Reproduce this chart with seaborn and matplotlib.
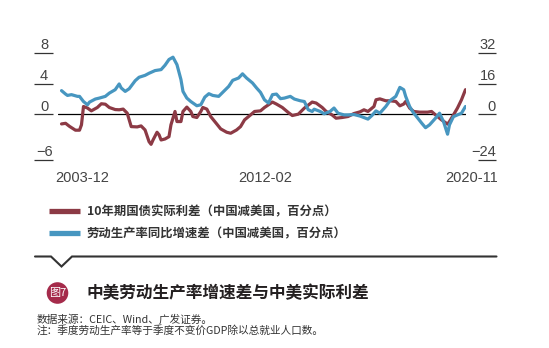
import numpy as np
import pandas as pd
import seaborn as sns
import matplotlib
matplotlib.use("Agg")
import matplotlib.pyplot as plt
import matplotlib.dates as mdates
from matplotlib.lines import Line2D
from matplotlib.patches import Ellipse
from matplotlib.font_manager import FontProperties

# ---------------- data ----------------
red_dates = ['2003-12','2004-02','2004-04','2004-07','2004-09','2004-10','2004-11','2005-01','2005-03','2005-06',
             '2005-08','2005-10','2005-12','2006-03','2006-05','2006-07','2006-09','2006-11','2007-02','2007-04',
             '2007-06','2007-08','2007-09','2007-10','2007-12','2008-01','2008-02','2008-04','2008-06','2008-07',
             '2008-09','2008-10','2008-12','2009-01','2009-03','2009-05','2009-06','2009-08','2009-10','2009-11',
             '2010-01','2010-03','2010-06','2010-08','2010-11','2011-01','2011-04','2011-06','2011-08','2011-11',
             '2012-01','2012-04','2012-06','2012-10','2012-12','2013-03','2013-06','2013-08','2013-11','2014-02',
             '2014-06','2014-08','2014-11','2015-01','2015-04','2015-06','2015-09','2015-12','2016-03','2016-06',
             '2016-08','2016-10','2017-01','2017-02','2017-04','2017-07','2017-09','2017-12','2018-02','2018-04',
             '2018-05','2018-07','2018-09','2018-12','2019-04','2019-06','2019-08','2019-11','2020-02','2020-03',
             '2020-05','2020-07','2020-09','2020-11']
red_values = [-1.28, -1.2, -1.6, -2.1, -2.1, -1.4, 1.0, 0.8, 0.43, 0.87,
              1.36, 1.3, 0.87, 0.6, 0.57, 0.66, 0.13, -1.63, -1.67, -1.54,
              -2.07, -3.6, -3.95, -3.38, -2.37, -2.7, -3.38, -3.25, -2.95, -1.4,
              0.35, -0.97, -0.97, 0.35, 0.92, 0.35, -0.31, -0.44, 0.35, 0.87,
              0.66, -0.31, -1.28, -1.93, -2.37, -2.5, -2.07, -1.63, -0.75, -0.1,
              0.35, 0.43, 0.87, 1.58, 1.32, 0.87, 0.21, -0.18, 0.0, 0.79,
              1.58, 1.45, 0.87, 0.35, -0.1, -0.53, -0.44, -0.31, 0.08, 0.3,
              0.57, 0.35, 1.0, 1.88, 2.0, 1.75, 1.75, 1.66, 1.09, 1.32,
              1.66, 0.79, 0.35, 0.26, 0.26, 0.35, -0.1, -0.75, -1.3, -0.97,
              -0.1, 0.79, 1.88, 3.2]

blue_dates = ['2003-12','2004-02','2004-03','2004-05','2004-08','2004-09','2004-11','2005-01','2005-02','2005-05',
              '2005-07','2005-10','2005-12','2006-03','2006-05','2006-06','2006-08','2006-10','2007-01','2007-03',
              '2007-06','2007-08','2007-11','2008-02','2008-04','2008-06','2008-08','2008-10','2008-12','2009-01',
              '2009-03','2009-05','2009-08','2009-10','2009-12','2010-02','2010-04','2010-07','2010-09','2010-12',
              '2011-02','2011-05','2011-07','2011-09','2011-12','2012-02','2012-04','2012-06','2012-08','2012-10',
              '2012-12','2013-02','2013-04','2013-07','2013-09','2013-12','2014-02','2014-04','2014-06','2014-07',
              '2014-10','2014-12','2015-03','2015-05','2015-07','2015-10','2015-12','2016-03','2016-06','2016-10',
              '2016-12','2017-02','2017-04','2017-07','2017-09','2017-12','2018-02','2018-04','2018-05','2018-07',
              '2018-09','2018-10','2019-01','2019-03','2019-05','2019-08','2019-10','2019-12','2020-02','2020-03',
              '2020-05','2020-07','2020-09','2020-11']
blue_values = [12.3, 10.5, 9.8, 10.2, 9.3, 9.3, 6.6, 4.9, 6.3, 7.9,
               8.4, 9.3, 11.0, 12.8, 15.8, 13.7, 11.9, 13.3, 17.5, 19.3,
               20.3, 21.4, 22.8, 23.3, 25.6, 28.6, 29.8, 25.9, 18.1, 11.9,
               8.4, 6.6, 4.4, 4.9, 8.9, 10.7, 9.8, 9.3, 11.4, 14.5,
               17.7, 18.9, 21.1, 18.9, 16.3, 13.7, 11.4, 7.5, 5.8, 10.2,
               10.5, 8.1, 8.4, 9.3, 7.9, 7.0, 6.6, 2.3, 1.4, 2.6,
               1.4, 0.2, 1.4, 3.2, 0.5, -0.4, -0.4, -0.2, -1.0, -2.6,
               -0.7, 1.7, 0.5, 4.0, 7.0, 9.3, 14.0, 12.8, 9.3, 4.0,
               0.5, -0.7, -4.7, -7.1, -5.6, -2.1, 0.5, -3.9, -10.5, -5.6,
               -1.3, -0.4, 0.5, 4.0]

red_label = '10年期国债实际利差（中国减美国，百分点）'
blue_label = '劳动生产率同比增速差（中国减美国，百分点）'

left_ticks = [-6, 0, 4, 8]
left_ticklabels = ['\u22126', '0', '4', '8']
right_ticks = [-24, 0, 16, 32]
right_ticklabels = ['\u221224', '0', '16', '32']

x_labels = ['2003-12', '2012-02', '2020-11']
x_label_offsets_px = [20.5, 9.0, 6.0]

title = '中美劳动生产率增速差与中美实际利差'
badge = '图7'
source_line = '数据来源：CEIC、Wind、广发证券。'
note_line = '注：季度劳动生产率等于季度不变价GDP除以总就业人口数。'

RED = '#8C3A45'
BLUE = '#4796C0'
BADGE = '#A52B4B'
TXT = '#333333'

# ---------------- figure ----------------
sns.set_theme(style='white')
plt.rcParams['font.family'] = ['Liberation Sans', 'Noto Sans CJK SC', 'DejaVu Sans']

W, H = 549, 348
fig = plt.figure(figsize=(W / 100, H / 100), dpi=100)
fig.patch.set_facecolor('white')

def fx(x):
    return x / W

def fy(y):
    return 1 - y / H

ax_left, ax_right, ax_top, ax_bot = 58, 466, 53, 160
ax = fig.add_axes([fx(ax_left), fy(ax_bot), fx(ax_right) - fx(ax_left), fy(ax_top) - fy(ax_bot)])
ax.set_facecolor('none')
ax2 = ax.twinx()
ax2.set_facecolor('none')

red_df = pd.DataFrame({'date': pd.to_datetime(red_dates), 'value': red_values})
blue_df = pd.DataFrame({'date': pd.to_datetime(blue_dates), 'value': blue_values})

ax.axhline(0, color='black', lw=0.9, zorder=1)
sns.lineplot(data=red_df, x='date', y='value', ax=ax, color=RED, lw=2.3, label=red_label,
             legend=False, zorder=3)
sns.lineplot(data=blue_df, x='date', y='value', ax=ax2, color=BLUE, lw=2.3, label=blue_label,
             legend=False, zorder=2)

start = pd.Timestamp('2003-12-01')
end = pd.Timestamp('2020-11-01')
xlim = (start - pd.Timedelta(days=54), end + pd.Timedelta(days=8))
ax.set_xlim(xlim)
ax.set_ylim(-6, 8)
ax2.set_ylim(-24, 32)

for a in (ax, ax2):
    for s in a.spines.values():
        s.set_visible(False)
    a.set_xticks([])
    a.set_yticks([])
    a.set_xlabel('')
    a.set_ylabel('')
    a.grid(False)

# custom tick marks (short lines with label above)
ax.hlines(left_ticks, -0.0588, -0.0123, transform=ax.get_yaxis_transform(),
          color=TXT, lw=0.9, clip_on=False)
for v, t in zip(left_ticks, left_ticklabels):
    ax.annotate(t, xy=(-0.034, v), xycoords=ax.get_yaxis_transform(),
                xytext=(0, 2.6), textcoords='offset points', ha='center', va='baseline',
                fontsize=10.5, color='#444444', annotation_clip=False)
ax2.hlines(right_ticks, 1.0294, 1.0735, transform=ax2.get_yaxis_transform(),
           color=TXT, lw=0.9, clip_on=False)
for v, t in zip(right_ticks, right_ticklabels):
    ax2.annotate(t, xy=(1.0735, v), xycoords=ax2.get_yaxis_transform(),
                 xytext=(0, 2.6), textcoords='offset points', ha='right', va='baseline',
                 fontsize=10.5, color='#444444', annotation_clip=False)

# x labels
for lab, off in zip(x_labels, x_label_offsets_px):
    xnum = mdates.date2num(pd.Timestamp(lab + '-01').to_pydatetime())
    ax.annotate(lab, xy=(xnum, 0), xycoords=ax.get_xaxis_transform(),
                xytext=(off * 0.72, -18 * 0.72), textcoords='offset points',
                ha='center', va='center', fontsize=10.5, color='#444444', annotation_clip=False)

# legend
h1 = ax.get_lines()[-1]
h2 = ax2.get_lines()[-1]
leg = fig.legend([h1, h2], [red_label, blue_label], loc='upper left',
                 bbox_to_anchor=(fx(49.3), fy(205.8)), frameon=False,
                 handlelength=2.45, handletextpad=0.6, labelspacing=0.66,
                 borderpad=0, borderaxespad=0,
                 prop=FontProperties(family=['Noto Sans CJK SC'], weight='bold', size=8.9))
for t in leg.get_texts():
    t.set_color(TXT)
for lh in leg.legend_handles:
    lh.set_linewidth(3.8)
    lh.set_solid_capstyle('butt')

# separator with notch
xs = [35, 51, 61.5, 72, 496.5]
ys = [256.5, 256.5, 266.5, 256.5, 256.5]
fig.add_artist(Line2D([fx(x) for x in xs], [fy(y) for y in ys], color=TXT, lw=1.5,
                      solid_joinstyle='miter'))

# badge
fig.add_artist(Ellipse((fx(57.5), fy(293)), 2 * 10.8 / W, 2 * 10.8 / H, color=BADGE, lw=0))
fig.text(fx(57.5), fy(293), badge, ha='center', va='center', color='white', fontsize=8,
         family=['Noto Sans CJK SC', 'Liberation Sans'])

# title and notes
fig.text(fx(86.7), fy(293.5), title, ha='left', va='center', fontsize=12, weight='bold',
         color='#231F20', family=['Noto Sans CJK SC'])
fig.text(fx(36.7), fy(319), source_line, ha='left', va='center', fontsize=7.7,
         color=TXT, family=['Noto Sans CJK SC', 'Liberation Sans'])
fig.text(fx(36.7), fy(330.5), note_line, ha='left', va='center', fontsize=7.7,
         color=TXT, family=['Noto Sans CJK SC', 'Liberation Sans'])

fig.savefig('out.png', dpi=100, facecolor='white')
